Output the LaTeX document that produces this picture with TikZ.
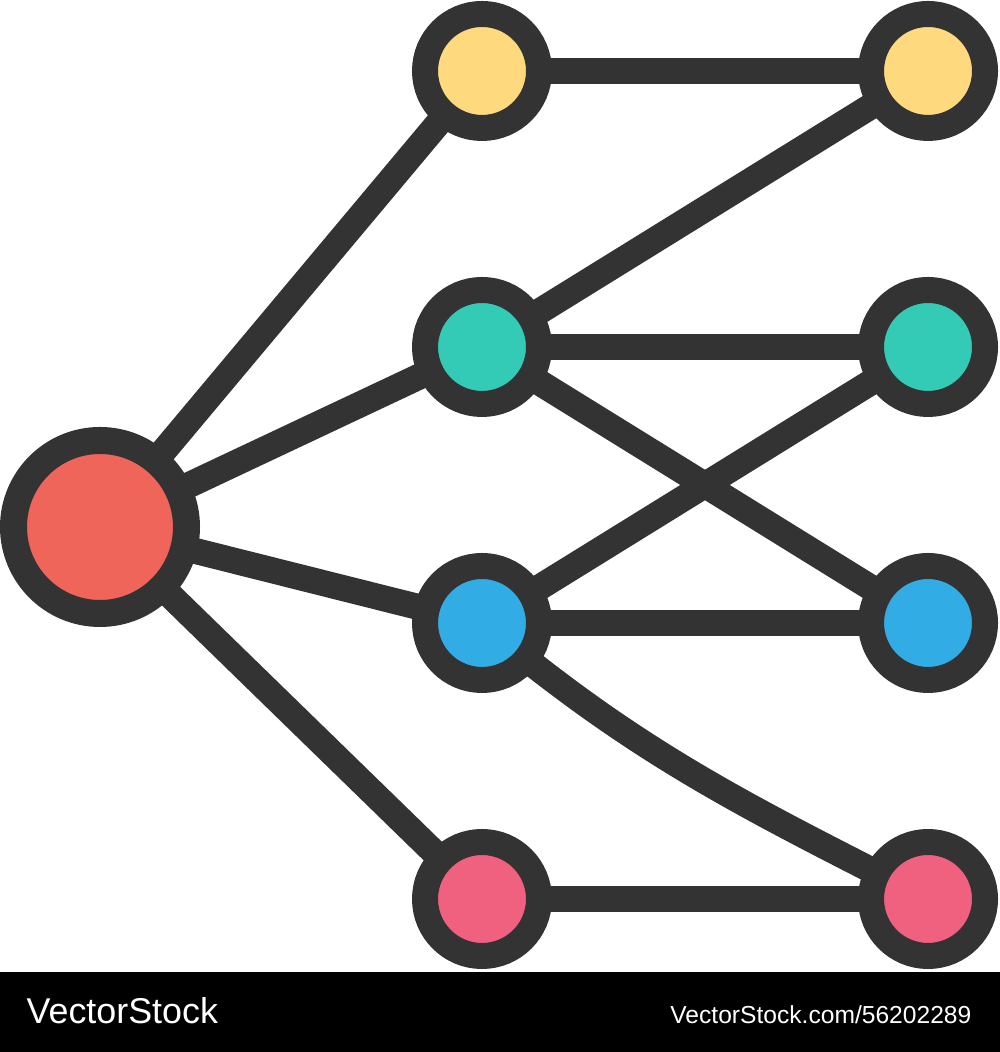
\documentclass[tikz,border=0pt]{standalone}
\usepackage{tikz}
\usepackage{xcolor}
\usepackage{fontspec}
\setmainfont{Liberation Sans}
\usetikzlibrary{backgrounds}

\definecolor{ink}{HTML}{333333}
\definecolor{hubred}{HTML}{EF655A}
\definecolor{dotyellow}{HTML}{FFD97D}
\definecolor{dotteal}{HTML}{33CBB5}
\definecolor{dotblue}{HTML}{32ACE4}
\definecolor{dotpink}{HTML}{F0617F}

\begin{document}
\begin{tikzpicture}[
  dot/.style={draw=ink, circle, line width=0.26cm, inner sep=0pt, minimum size=1.14cm},
  link/.style={draw=ink, line width=0.26cm},
  stamp/.style={text=white, inner sep=0pt}
]

\useasboundingbox (0,0) rectangle (10,10.52);

% Define the central node
\node[dot, fill=hubred, line width=0.27cm, minimum size=1.73cm] (H) at (1.00,5.25) {};

% Define the inner nodes
\node[dot, fill=dotyellow] (node1) at (4.82,9.81) {};
\node[dot, fill=dotteal] (node2) at (4.82,7.05) {};
\node[dot, fill=dotblue] (node3) at (4.82,4.29) {};
\node[dot, fill=dotpink] (node4) at (4.82,1.53) {};

% Define the outer nodes
\node[dot, fill=dotyellow] (leaf1) at (9.28,9.81) {};
\node[dot, fill=dotteal] (leaf2) at (9.28,7.05) {};
\node[dot, fill=dotblue] (leaf3) at (9.28,4.29) {};
\node[dot, fill=dotpink] (leaf4) at (9.28,1.53) {};

\begin{scope}[on background layer]
% Page and strip
\fill[white] (0,0) rectangle (10,10.52);
\fill[black] (0,0) rectangle (10,0.80);

% Connect the central node to the inner nodes
\draw[link] (H.center) -- (node1.center);
\draw[link] (H.center) -- (node2.center);
\draw[link] (H.center) -- (node3.center);
\draw[link] (H.center) -- (node4.center);

% Connect inner nodes to outer nodes
\draw[link] (node1.center) -- (leaf1.center);
\draw[link] (node2.center) -- (leaf1.center);
\draw[link] (node2.center) -- (leaf2.center);
\draw[link] (node2.center) -- (leaf3.center);
\draw[link] (node3.center) -- (leaf2.center);
\draw[link] (node3.center) -- (leaf3.center);
\draw[link] (node3.center) to[out=-40, in=153] (leaf4.center);
\draw[link] (node4.center) -- (leaf4.center);
\end{scope}

\node[stamp, anchor=base west, font=\fontsize{10.2}{12}\selectfont] (brand) at (0.26,0.29) {VectorStock};
\node[stamp, anchor=base east, font=\fontsize{7}{8}\selectfont] (imgid) at (9.72,0.29) {VectorStock.com/56202289};

\end{tikzpicture}
\end{document}
